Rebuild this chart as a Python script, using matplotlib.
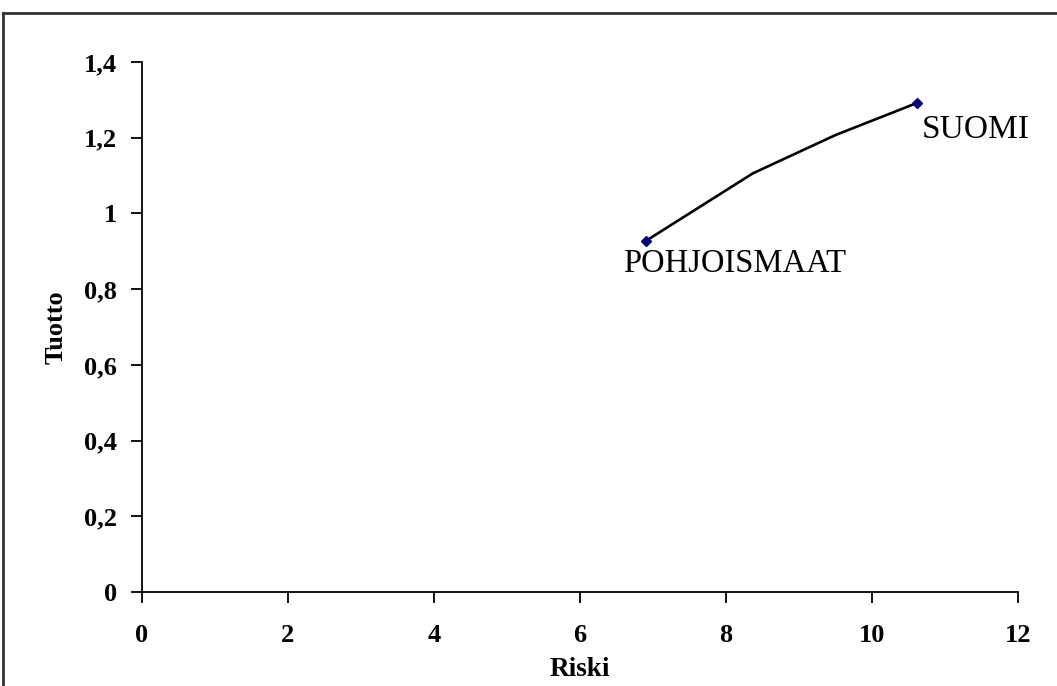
import matplotlib.pyplot as plt
from matplotlib.lines import Line2D
from matplotlib.ticker import FuncFormatter

# Risk / return frontier between the two portfolios
riski = [6.90, 8.37, 9.50, 10.62]
tuotto = [0.927, 1.106, 1.207, 1.292]
point_names = ["POHJOISMAAT", "SUOMI"]

x_ticks = [0, 2, 4, 6, 8, 10, 12]
y_ticks = [0, 0.2, 0.4, 0.6, 0.8, 1.0, 1.2, 1.4]

plt.rcParams["font.family"] = ["Liberation Serif", "DejaVu Serif"]

fig = plt.figure(figsize=(10.57, 6.86), dpi=100)
ax = fig.add_axes([0.1343, 0.137, 0.8287, 0.7726])

ax.plot(riski, tuotto, color="black", linewidth=1.9, marker="D",
        markersize=5.5, markerfacecolor="#000080", markeredgecolor="#000080",
        markevery=[0, len(riski) - 1])

# labels next to the end points
ax.text(10.685, 1.22, point_names[1], fontsize=24, ha="left", va="center")
ax.text(6.59, 0.866, point_names[0], fontsize=23.5, ha="left", va="center")

ax.set_xlim(0, 12)
ax.set_ylim(0, 1.4)
ax.set_xticks(x_ticks)
ax.set_yticks(y_ticks)


def comma_fmt(v, pos):
    s = f"{v:.1f}".rstrip("0").rstrip(".")
    return s.replace(".", ",")


ax.yaxis.set_major_formatter(FuncFormatter(comma_fmt))
ax.xaxis.set_major_formatter(FuncFormatter(comma_fmt))

for side in ["top", "right"]:
    ax.spines[side].set_visible(False)
for side in ["left", "bottom"]:
    ax.spines[side].set_linewidth(1.3)
    ax.spines[side].set_color("black")

ax.tick_params(direction="out", length=8, width=1.3, labelsize=19)
ax.tick_params(axis="x", pad=15)
ax.tick_params(axis="y", pad=10)
for lab in ax.get_xticklabels() + ax.get_yticklabels():
    lab.set_fontweight("bold")

ax.set_xlabel("Riski", fontsize=19.5, fontweight="bold", labelpad=7)
ax.set_ylabel("Tuotto", fontsize=19, fontweight="bold", labelpad=12)

# chart area border (left and top edges)
fig.add_artist(Line2D([3 / 1057, 3 / 1057], [0, 1 - 13 / 686],
                      transform=fig.transFigure, color="#333333", linewidth=2))
fig.add_artist(Line2D([3 / 1057, 1], [1 - 13 / 686, 1 - 13 / 686],
                      transform=fig.transFigure, color="#333333", linewidth=2))

plt.savefig("out.png", dpi=100)
